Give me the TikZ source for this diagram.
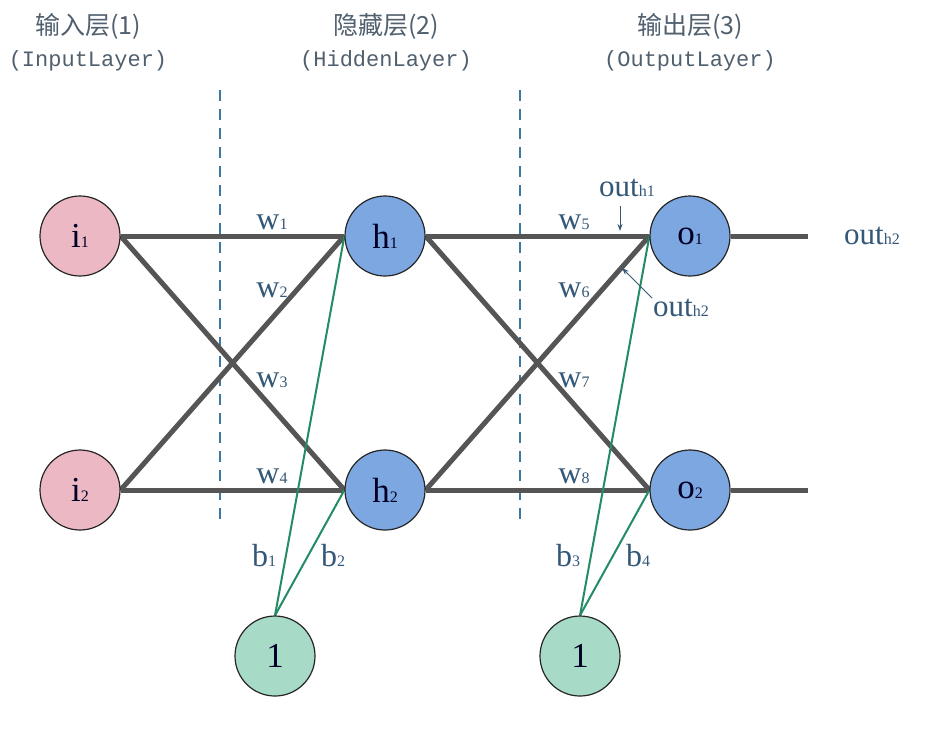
\documentclass[tikz,border=0pt]{standalone}
\usepackage{fontspec}
\setmainfont{Liberation Serif}
\newfontfamily\cjk{Noto Sans CJK SC}
\newfontfamily\hdmono{Liberation Mono}
\usetikzlibrary{backgrounds,arrows.meta}
\definecolor{pinkfill}{RGB}{236,184,196}
\definecolor{bluefill}{RGB}{124,167,224}
\definecolor{greenfill}{RGB}{168,218,200}
\definecolor{labcol}{RGB}{52,88,120}
\definecolor{headcol}{RGB}{80,96,110}
\definecolor{edgegray}{RGB}{85,85,85}
\definecolor{biasgreen}{RGB}{35,140,100}
\definecolor{dashcol}{RGB}{60,120,160}
\newcommand{\sbx}[1]{{\fontsize{16}{16}\selectfont #1}}
\tikzset{
  neuron/.style={circle, draw=black!85, line width=1.2pt, minimum size=80pt, inner sep=0pt,
    font=\fontsize{35}{35}\selectfont, text=black!85!blue},
  inp/.style={neuron, fill=pinkfill},
  hid/.style={neuron, fill=bluefill},
  bia/.style={neuron, fill=greenfill},
  wedge/.style={draw=edgegray, line width=5pt},
  bedge/.style={draw=biasgreen, line width=2pt},
  sep/.style={draw=dashcol, line width=1.8pt, dash pattern=on 11pt off 8pt},
  lab/.style={text=labcol, font=\fontsize{32}{32}\selectfont, inner sep=0pt},
  outlab/.style={text=labcol, font=\fontsize{31}{31}\selectfont, inner sep=0pt},
  head/.style={text=headcol, inner sep=0pt},
  ptr/.style={draw=labcol, line width=1pt, -{Stealth[length=7pt,width=5pt]}}
}
\begin{document}
\begin{tikzpicture}[x=1pt,y=-1pt]
\useasboundingbox (0,0) rectangle (944,740);

% headers
\node[head, font=\cjk\fontsize{25}{25}\selectfont] (hd1) at (88,26) {输入层(1)};
\node[head, font=\hdmono\fontsize{22}{22}\selectfont] (hd1b) at (88,61) {(InputLayer)};
\node[head, font=\cjk\fontsize{25}{25}\selectfont] (hd2) at (386,26) {隐藏层(2)};
\node[head, font=\hdmono\fontsize{22}{22}\selectfont] (hd2b) at (386,61) {(HiddenLayer)};
\node[head, font=\cjk\fontsize{25}{25}\selectfont] (hd3) at (690,26) {输出层(3)};
\node[head, font=\hdmono\fontsize{22}{22}\selectfont] (hd3b) at (690,61) {(OutputLayer)};

% neurons
\node[inp] (i1) at (80,236) {i\sbx{1}};
\node[inp] (i2) at (80,490) {i\sbx{2}};
\node[hid] (h1) at (385,236) {h\sbx{1}};
\node[hid] (h2) at (385,490) {h\sbx{2}};
\node[hid] (o1) at (690,236) {o\sbx{1}};
\node[hid] (o2) at (690,490) {o\sbx{2}};
\node[bia] (b1) at (275,656) {1};
\node[bia] (b2) at (580,656) {1};

\coordinate (e1) at (808,236);
\coordinate (e2) at (808,490);
\coordinate (d1t) at (220,90);
\coordinate (d1b) at (220,525);
\coordinate (d2t) at (520,90);
\coordinate (d2b) at (520,525);

\begin{scope}[on background layer]
\fill[white] (0,0) rectangle (944,740);
\draw[sep] (d1t) -- (d1b);
\draw[sep] (d2t) -- (d2b);
\draw[wedge] (i1.east) -- (h1.west);
\draw[wedge] (i1.east) -- (h2.west);
\draw[wedge] (i2.east) -- (h1.west);
\draw[wedge] (i2.east) -- (h2.west);
\draw[wedge] (h1.east) -- (o1.west);
\draw[wedge] (h1.east) -- (o2.west);
\draw[wedge] (h2.east) -- (o1.west);
\draw[wedge] (h2.east) -- (o2.west);
\draw[wedge] (o1.east) -- (e1);
\draw[wedge] (o2.east) -- (e2);
\draw[bedge] (b1.north) -- (h1.west);
\draw[bedge] (b1.north) -- (h2.west);
\draw[bedge] (b2.north) -- (o1.west);
\draw[bedge] (b2.north) -- (o2.west);
\end{scope}

% weight labels
\node[lab] (w1) at (272,222) {w\sbx{1}};
\node[lab] (w2) at (272,290) {w\sbx{2}};
\node[lab] (w3) at (272,380) {w\sbx{3}};
\node[lab] (w4) at (272,476) {w\sbx{4}};
\node[lab] (w5) at (574,222) {w\sbx{5}};
\node[lab] (w6) at (574,290) {w\sbx{6}};
\node[lab] (w7) at (574,380) {w\sbx{7}};
\node[lab] (w8) at (574,476) {w\sbx{8}};
\node[lab] (lb1) at (264,556) {b\sbx{1}};
\node[lab] (lb2) at (333,556) {b\sbx{2}};
\node[lab] (lb3) at (568,556) {b\sbx{3}};
\node[lab] (lb4) at (638,556) {b\sbx{4}};

% out labels
\node[outlab] (oh1) at (627,188) {out\sbx{h1}};
\node[outlab] (oh2) at (681,308) {out\sbx{h2}};
\node[outlab] (oh3) at (872,236) {out\sbx{h2}};
\coordinate (a1s) at (620,206);
\coordinate (a1e) at (620,231);
\coordinate (a2s) at (652,298);
\coordinate (a2e) at (622,268);
\draw[ptr] (a1s) -- (a1e);
\draw[ptr] (a2s) -- (a2e);
\end{tikzpicture}
\end{document}
